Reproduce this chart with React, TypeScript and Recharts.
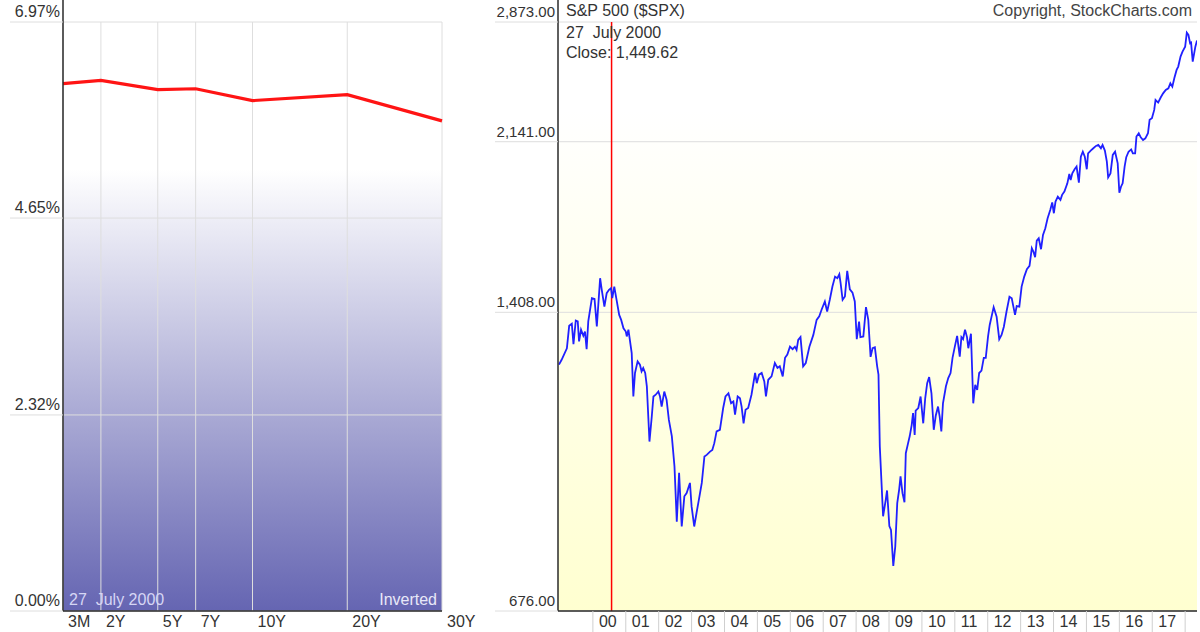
import React from "react";
import {
  LineChart,
  Line,
  XAxis,
  YAxis,
  CartesianGrid,
  ReferenceLine,
} from "recharts";

// yield curve, 27 July 2000
const maturities = ["3M", "2Y", "5Y", "7Y", "10Y", "20Y", "30Y"];
const maturityPos = [0, 2, 5, 7, 10, 15, 20];
const yields = [6.24, 6.28, 6.17, 6.18, 6.04, 6.11, 5.8];
const yieldTicks = [0, 2.32, 4.65, 6.97];

// S&P 500, decimal year / close
const spxDates = [
  1998.97, 1999.05, 1999.21, 1999.28, 1999.36, 1999.41, 1999.48, 1999.54, 1999.58, 1999.64,
  1999.71, 1999.76, 1999.81, 1999.86, 1999.97, 2000.05, 2000.12, 2000.22, 2000.27, 2000.35,
  2000.42, 2000.49, 2000.55, 2000.59, 2000.65, 2000.72, 2000.8, 2000.86, 2000.93, 2001.0,
  2001.03, 2001.08, 2001.18, 2001.23, 2001.28, 2001.36, 2001.43, 2001.48, 2001.53, 2001.59,
  2001.64, 2001.72, 2001.79, 2001.84, 2001.91, 2001.99, 2002.04, 2002.09, 2002.17, 2002.24,
  2002.31, 2002.4, 2002.48, 2002.55, 2002.62, 2002.7, 2002.78, 2002.85, 2002.95, 2003.0,
  2003.08, 2003.15, 2003.23, 2003.31, 2003.39, 2003.46, 2003.56, 2003.63, 2003.69, 2003.76,
  2003.86, 2003.96, 2004.03, 2004.12, 2004.2, 2004.27, 2004.32, 2004.4, 2004.47, 2004.52,
  2004.58, 2004.64, 2004.72, 2004.82, 2004.93, 2004.98, 2005.05, 2005.13, 2005.21, 2005.26,
  2005.33, 2005.43, 2005.53, 2005.61, 2005.68, 2005.77, 2005.84, 2005.91, 2005.99, 2006.07,
  2006.14, 2006.19, 2006.24, 2006.31, 2006.39, 2006.47, 2006.58, 2006.7, 2006.8, 2006.88,
  2006.95, 2007.05, 2007.12, 2007.2, 2007.28, 2007.36, 2007.43, 2007.49, 2007.53, 2007.59,
  2007.66, 2007.73, 2007.81, 2007.89, 2007.96, 2008.02, 2008.09, 2008.13, 2008.22, 2008.3,
  2008.37, 2008.44, 2008.5, 2008.57, 2008.64, 2008.68, 2008.72, 2008.82, 2008.9, 2008.94,
  2009.01, 2009.06, 2009.13, 2009.19, 2009.25, 2009.31, 2009.35, 2009.41, 2009.47, 2009.51,
  2009.58, 2009.63, 2009.69, 2009.73, 2009.78, 2009.81, 2009.89, 2009.96, 2010.04, 2010.1,
  2010.16, 2010.22, 2010.29, 2010.36, 2010.42, 2010.49, 2010.54, 2010.59, 2010.64, 2010.73,
  2010.8, 2010.87, 2010.93, 2011.0, 2011.07, 2011.15, 2011.2, 2011.25, 2011.31, 2011.37,
  2011.41, 2011.49, 2011.56, 2011.62, 2011.68, 2011.74, 2011.81, 2011.88, 2011.94, 2012.01,
  2012.06, 2012.18, 2012.27, 2012.35, 2012.42, 2012.49, 2012.57, 2012.66, 2012.73, 2012.78,
  2012.83, 2012.88, 2012.96, 2013.03, 2013.11, 2013.19, 2013.27, 2013.34, 2013.39, 2013.44,
  2013.49, 2013.55, 2013.62, 2013.68, 2013.75, 2013.82, 2013.9, 2013.96, 2014.01, 2014.06,
  2014.13, 2014.21, 2014.26, 2014.33, 2014.42, 2014.48, 2014.52, 2014.57, 2014.64, 2014.7,
  2014.77, 2014.83, 2014.89, 2014.95, 2015.01, 2015.05, 2015.13, 2015.21, 2015.29, 2015.36,
  2015.44, 2015.49, 2015.56, 2015.62, 2015.66, 2015.73, 2015.8, 2015.87, 2015.95, 2016.0,
  2016.05, 2016.1, 2016.16, 2016.21, 2016.28, 2016.36, 2016.41, 2016.48, 2016.52, 2016.59,
  2016.65, 2016.72, 2016.79, 2016.87, 2016.92, 2016.99, 2017.06, 2017.1, 2017.18, 2017.26,
  2017.33, 2017.41, 2017.49, 2017.55, 2017.61, 2017.67, 2017.74, 2017.79, 2017.86, 2017.92,
  2018.0, 2018.05, 2018.1, 2018.15, 2018.18, 2018.23, 2018.31, 2018.36,
];
const spxCloses = [
  1238, 1253, 1289, 1362, 1369, 1302, 1380, 1377, 1311, 1349,
  1329, 1343, 1286, 1377, 1458, 1455, 1360, 1531, 1488, 1428,
  1476, 1488, 1494, 1458, 1500, 1452, 1399, 1382, 1354, 1343,
  1327, 1349, 1274, 1145, 1213, 1248, 1238, 1218, 1228, 1213,
  1174, 1025, 1090, 1145, 1150, 1159, 1145, 1117, 1159, 1136,
  1081, 1038, 964, 842, 949, 832, 896, 903, 926, 874,
  832, 860, 892, 926, 988, 992, 1000, 1004, 1021, 1051,
  1055, 1113, 1145, 1154, 1126, 1131, 1095, 1145, 1140, 1117,
  1072, 1108, 1113, 1150, 1213, 1183, 1208, 1213, 1188, 1145,
  1193, 1203, 1243, 1228, 1233, 1203, 1259, 1269, 1294, 1286,
  1294, 1284, 1316, 1325, 1233, 1243, 1294, 1332, 1382, 1394,
  1417, 1446, 1411, 1452, 1500, 1537, 1531, 1546, 1512, 1452,
  1464, 1559, 1490, 1478, 1446, 1318, 1376, 1325, 1327, 1426,
  1382, 1262, 1289, 1292, 1233, 1208, 1013, 853, 888, 909,
  833, 825, 755, 792, 881, 912, 941, 903, 883, 996,
  1021, 1039, 1068, 1099, 1042, 1106, 1113, 1145, 1072, 1140,
  1183, 1201, 1154, 1055, 1092, 1117, 1090, 1051, 1126, 1174,
  1198, 1213, 1259, 1294, 1329, 1263, 1325, 1318, 1349, 1325,
  1289, 1336, 1126, 1178, 1164, 1213, 1220, 1259, 1259, 1327,
  1365, 1426, 1393, 1318, 1332, 1359, 1410, 1463, 1457, 1428,
  1399, 1430, 1428, 1500, 1537, 1565, 1578, 1648, 1634, 1612,
  1679, 1689, 1644, 1703, 1731, 1774, 1810, 1844, 1796, 1848,
  1871, 1856, 1879, 1894, 1933, 1978, 1949, 1981, 2001, 2014,
  1936, 2064, 2089, 2064, 2001, 2081, 2095, 2107, 2119, 2124,
  2107, 2124, 2095, 2039, 1962, 1981, 2073, 2089, 2030, 1889,
  1917, 1933, 2014, 2061, 2089, 2101, 2081, 2081, 2168, 2186,
  2164, 2150, 2159, 2186, 2259, 2268, 2315, 2372, 2357, 2388,
  2411, 2431, 2441, 2471, 2451, 2502, 2554, 2575, 2639, 2671,
  2704, 2799, 2783, 2727, 2731, 2606, 2704, 2745,
];
const spxTicks = [676, 1408, 2141, 2873];
const yearTicks = [
  2000, 2001, 2002, 2003, 2004, 2005, 2006, 2007, 2008, 2009,
  2010, 2011, 2012, 2013, 2014, 2015, 2016, 2017, 2018,
];
const markerDate = 2000.568; // 27 July 2000

const FONT = '"Liberation Sans", Arial, sans-serif';
const TEXT = "#333";
const GRID = "#dedede";
const AXIS = "#2a2a2a";

const yieldData = maturities.map((m, i) => ({ name: m, pos: maturityPos[i], y: yields[i] }));
const spxData = spxDates.map((d, i) => ({ t: d, close: spxCloses[i] }));

const fmtMoney = (v: number) =>
  v.toLocaleString("en-US", { minimumFractionDigits: 2, maximumFractionDigits: 2 });

// y labels sit above their gridline, right aligned against the axis
const yTick = (tickSize: number, fmt: (v: number) => string, size: number) => (props: any) => {
  const { x, y, payload } = props;
  return (
    <text x={x + tickSize - 3} y={y - 5} textAnchor="end" fill={TEXT} fontSize={size} fontFamily={FONT}>
      {fmt(payload.value)}
    </text>
  );
};

const maturityTick = (props: any) => {
  const { x, y, payload } = props;
  const i = maturityPos.indexOf(payload.value);
  return (
    <text x={x + 5} y={y - 5} textAnchor="start" fill={TEXT} fontSize={16} fontFamily={FONT}>
      {maturities[i]}
    </text>
  );
};

const yearTick = (props: any) => {
  const { x, y, payload } = props;
  if (payload.value >= 2018) return <g />;
  return (
    <text x={x + 6} y={y - 5} textAnchor="start" fill={TEXT} fontSize={16} fontFamily={FONT}>
      {String(payload.value).slice(2)}
    </text>
  );
};

const label: React.CSSProperties = {
  position: "absolute",
  fontFamily: FONT,
  fontSize: 16,
  lineHeight: "18px",
  whiteSpace: "pre",
  color: TEXT,
};

export default function App() {
  return (
    <div style={{ position: "absolute", left: 0, top: 0, width: 1200, height: 632, background: "#fff", overflow: "hidden" }}>
      <div style={{ position: "absolute", left: 0, top: 0 }}>
        <LineChart width={480} height={632} data={yieldData} margin={{ top: 22, right: 38, bottom: 0, left: 0 }}>
          <defs>
            <linearGradient id="yieldBg" x1="0" y1="0" x2="0" y2="1">
              <stop offset="0" stopColor="#ffffff" />
              <stop offset="0.25" stopColor="#ffffff" />
              <stop offset="1" stopColor="#6565b2" />
            </linearGradient>
          </defs>
          <CartesianGrid stroke={GRID} fill="url(#yieldBg)" />
          <XAxis
            dataKey="pos"
            type="number"
            domain={[0, 20]}
            ticks={maturityPos}
            interval={0}
            height={21}
            tickSize={21}
            tickMargin={0}
            tickLine={false}
            axisLine={{ stroke: AXIS, strokeWidth: 1.5 }}
            tick={maturityTick}
          />
          <YAxis
            type="number"
            domain={[0, 6.97]}
            ticks={yieldTicks}
            interval={0}
            width={63}
            tickSize={53}
            tickMargin={0}
            tickLine={{ stroke: GRID }}
            axisLine={{ stroke: AXIS, strokeWidth: 1.5 }}
            tick={yTick(53, (v) => v.toFixed(2) + "%", 16)}
          />
          <ReferenceLine
            segment={[{ x: 0, y: 6.97 }, { x: 0, y: 7.25 }]}
            stroke={AXIS}
            strokeWidth={1.5}
            ifOverflow="visible"
          />
          <Line
            type="linear"
            dataKey="y"
            stroke="#ff1414"
            strokeWidth={3.2}
            dot={false}
            isAnimationActive={false}
          />
        </LineChart>
      </div>
      <div style={{ ...label, left: 69, top: 591, color: "#d6d6f4" }}>27  July 2000</div>
      <div style={{ ...label, left: 360, width: 77, top: 591, textAlign: "right", color: "#e8e8f8" }}>Inverted</div>

      <div style={{ position: "absolute", left: 480, top: 0 }}>
        <LineChart width={720} height={632} data={spxData} margin={{ top: 22, right: 3, bottom: 0, left: 0 }}>
          <defs>
            <linearGradient id="spxBg" x1="0" y1="0" x2="0" y2="1">
              <stop offset="0" stopColor="#ffffff" />
              <stop offset="0.15" stopColor="#ffffff" />
              <stop offset="1" stopColor="#ffffd0" />
            </linearGradient>
          </defs>
          <CartesianGrid stroke={GRID} fill="url(#spxBg)" vertical={false} />
          <XAxis
            dataKey="t"
            type="number"
            domain={[1998.94, 2018.36]}
            allowDataOverflow
            ticks={yearTicks}
            interval={0}
            height={21}
            tickSize={21}
            tickMargin={0}
            tickLine={{ stroke: "#cfcfcf" }}
            axisLine={{ stroke: AXIS, strokeWidth: 1.5 }}
            tick={yearTick}
          />
          <YAxis
            type="number"
            scale="log"
            domain={[676, 2873]}
            allowDataOverflow
            ticks={spxTicks}
            interval={0}
            width={78}
            tickSize={63}
            tickMargin={0}
            tickLine={{ stroke: GRID }}
            axisLine={{ stroke: AXIS, strokeWidth: 1.5 }}
            tick={yTick(63, fmtMoney, 15)}
          />
          <ReferenceLine
            segment={[{ x: 1998.94, y: 2873 }, { x: 1998.94, y: 3040 }]}
            stroke={AXIS}
            strokeWidth={1.5}
            ifOverflow="visible"
          />
          <ReferenceLine x={markerDate} stroke="#ff0000" strokeWidth={1.5} strokeOpacity={1} />
          <Line
            type="linear"
            dataKey="close"
            stroke="#2020ff"
            strokeWidth={1.8}
            dot={false}
            isAnimationActive={false}
          />
        </LineChart>
      </div>
      <div style={{ ...label, left: 566, top: 2 }}>S&amp;P 500 ($SPX)</div>
      <div style={{ ...label, left: 900, width: 292, top: 2, textAlign: "right", color: "#444" }}>Copyright, StockCharts.com</div>
      <div style={{ ...label, left: 566, top: 24 }}>27  July 2000</div>
      <div style={{ ...label, left: 566, top: 44 }}>Close: 1,449.62</div>
    </div>
  );
}
